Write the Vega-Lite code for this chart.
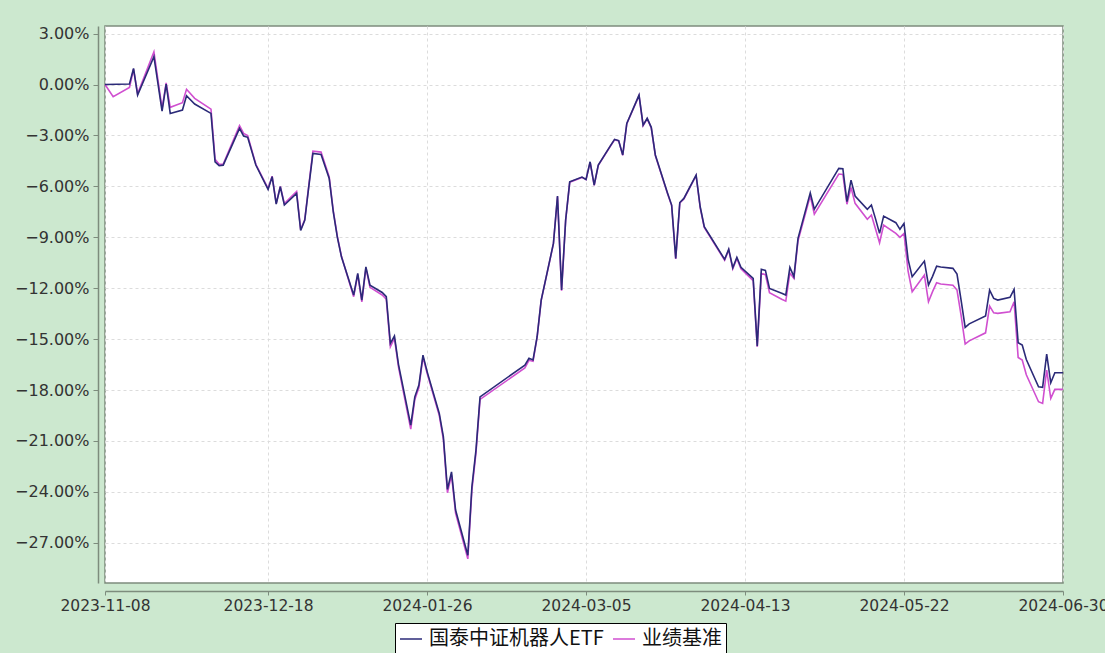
{
 "$schema": "https://vega.github.io/schema/vega-lite/v6.json",
 "width": 958,
 "height": 557,
 "autosize": {"type": "none"},
 "padding": {"left": 105, "top": 26, "right": 42, "bottom": 70},
 "background": "#cce8cf",
 "config": {
  "view": {"fill": "#ffffff", "stroke": "#7d8c7d", "strokeWidth": 1.5},
  "font": "DejaVu Sans"
 },
 "data": {"values": [
  {"d":"2023-11-08","国泰中证机器人ETF":0.00,"业绩基准":0.00},
  {"d":"2023-11-10","业绩基准":-0.72},
  {"d":"2023-11-14","国泰中证机器人ETF":0.03,"业绩基准":-0.17},
  {"d":"2023-11-15","国泰中证机器人ETF":0.95,"业绩基准":0.90},
  {"d":"2023-11-16","国泰中证机器人ETF":-0.62,"业绩基准":-0.55},
  {"d":"2023-11-20","国泰中证机器人ETF":1.64,"业绩基准":1.93},
  {"d":"2023-11-22","国泰中证机器人ETF":-1.56,"业绩基准":-1.40},
  {"d":"2023-11-23","国泰中证机器人ETF":0.03,"业绩基准":0.10},
  {"d":"2023-11-24","国泰中证机器人ETF":-1.70,"业绩基准":-1.34},
  {"d":"2023-11-27","国泰中证机器人ETF":-1.50,"业绩基准":-1.07},
  {"d":"2023-11-28","国泰中证机器人ETF":-0.66,"业绩基准":-0.28},
  {"d":"2023-11-30","国泰中证机器人ETF":-1.15,"业绩基准":-0.81},
  {"d":"2023-12-04","国泰中证机器人ETF":-1.70,"业绩基准":-1.45},
  {"d":"2023-12-05","国泰中证机器人ETF":-4.55,"业绩基准":-4.40},
  {"d":"2023-12-06","国泰中证机器人ETF":-4.78,"业绩基准":-4.70},
  {"d":"2023-12-07","国泰中证机器人ETF":-4.75,"业绩基准":-4.68},
  {"d":"2023-12-11","国泰中证机器人ETF":-2.58,"业绩基准":-2.42},
  {"d":"2023-12-12","国泰中证机器人ETF":-3.03,"业绩基准":-2.88},
  {"d":"2023-12-13","国泰中证机器人ETF":-3.11,"业绩基准":-3.00},
  {"d":"2023-12-15","国泰中证机器人ETF":-4.74,"业绩基准":-4.70},
  {"d":"2023-12-18","国泰中证机器人ETF":-6.18,"业绩基准":-6.12},
  {"d":"2023-12-19","国泰中证机器人ETF":-5.43,"业绩基准":-5.40},
  {"d":"2023-12-20","国泰中证机器人ETF":-7.04,"业绩基准":-7.00},
  {"d":"2023-12-21","国泰中证机器人ETF":-6.02,"业绩基准":-6.00},
  {"d":"2023-12-22","国泰中证机器人ETF":-7.10,"业绩基准":-7.02},
  {"d":"2023-12-25","国泰中证机器人ETF":-6.41,"业绩基准":-6.30},
  {"d":"2023-12-26","国泰中证机器人ETF":-8.60,"业绩基准":-8.55},
  {"d":"2023-12-27","国泰中证机器人ETF":-8.00,"业绩基准":-7.95},
  {"d":"2023-12-28","国泰中证机器人ETF":-6.00,"业绩基准":-5.92},
  {"d":"2023-12-29","国泰中证机器人ETF":-4.06,"业绩基准":-3.93},
  {"d":"2023-12-31","国泰中证机器人ETF":-4.12,"业绩基准":-3.98},
  {"d":"2024-01-02","国泰中证机器人ETF":-5.53,"业绩基准":-5.45},
  {"d":"2024-01-03","国泰中证机器人ETF":-7.50,"业绩基准":-7.45},
  {"d":"2024-01-04","国泰中证机器人ETF":-9.00,"业绩基准":-8.95},
  {"d":"2024-01-05","国泰中证机器人ETF":-10.15,"业绩基准":-10.12},
  {"d":"2024-01-08","国泰中证机器人ETF":-12.40,"业绩基准":-12.50},
  {"d":"2024-01-09","国泰中证机器人ETF":-11.13,"业绩基准":-11.20},
  {"d":"2024-01-10","国泰中证机器人ETF":-12.70,"业绩基准":-12.80},
  {"d":"2024-01-11","国泰中证机器人ETF":-10.74,"业绩基准":-10.80},
  {"d":"2024-01-12","国泰中证机器人ETF":-11.82,"业绩基准":-11.95},
  {"d":"2024-01-15","国泰中证机器人ETF":-12.25,"业绩基准":-12.40},
  {"d":"2024-01-16","国泰中证机器人ETF":-12.50,"业绩基准":-12.65},
  {"d":"2024-01-17","国泰中证机器人ETF":-15.25,"业绩基准":-15.45},
  {"d":"2024-01-18","国泰中证机器人ETF":-14.82,"业绩基准":-14.95},
  {"d":"2024-01-19","国泰中证机器人ETF":-16.50,"业绩基准":-16.65},
  {"d":"2024-01-22","国泰中证机器人ETF":-20.07,"业绩基准":-20.30},
  {"d":"2024-01-23","国泰中证机器人ETF":-18.40,"业绩基准":-18.55},
  {"d":"2024-01-24","国泰中证机器人ETF":-17.71,"业绩基准":-17.85},
  {"d":"2024-01-25","国泰中证机器人ETF":-15.94,"业绩基准":-16.05},
  {"d":"2024-01-26","国泰中证机器人ETF":-16.90,"业绩基准":-17.00},
  {"d":"2024-01-29","国泰中证机器人ETF":-19.38,"业绩基准":-19.50},
  {"d":"2024-01-30","国泰中证机器人ETF":-20.75,"业绩基准":-20.90},
  {"d":"2024-01-31","国泰中证机器人ETF":-23.85,"业绩基准":-24.05},
  {"d":"2024-02-01","国泰中证机器人ETF":-22.82,"业绩基准":-23.00},
  {"d":"2024-02-02","国泰中证机器人ETF":-25.07,"业绩基准":-25.25},
  {"d":"2024-02-05","国泰中证机器人ETF":-27.73,"业绩基准":-27.95},
  {"d":"2024-02-06","国泰中证机器人ETF":-23.70,"业绩基准":-23.90},
  {"d":"2024-02-07","国泰中证机器人ETF":-21.54,"业绩基准":-21.70},
  {"d":"2024-02-08","国泰中证机器人ETF":-18.40,"业绩基准":-18.55},
  {"d":"2024-02-19","国泰中证机器人ETF":-16.53,"业绩基准":-16.70},
  {"d":"2024-02-20","国泰中证机器人ETF":-16.13,"业绩基准":-16.25},
  {"d":"2024-02-21","国泰中证机器人ETF":-16.23,"业绩基准":-16.30},
  {"d":"2024-02-22","国泰中证机器人ETF":-14.86,"业绩基准":-14.90},
  {"d":"2024-02-23","国泰中证机器人ETF":-12.70,"业绩基准":-12.72},
  {"d":"2024-02-26","国泰中证机器人ETF":-9.36,"业绩基准":-9.38},
  {"d":"2024-02-27","国泰中证机器人ETF":-6.57,"业绩基准":-6.60},
  {"d":"2024-02-28","国泰中证机器人ETF":-12.11,"业绩基准":-12.15},
  {"d":"2024-02-29","国泰中证机器人ETF":-7.98,"业绩基准":-8.00},
  {"d":"2024-03-01","国泰中证机器人ETF":-5.73,"业绩基准":-5.75},
  {"d":"2024-03-04","国泰中证机器人ETF":-5.45,"业绩基准":-5.47},
  {"d":"2024-03-05","国泰中证机器人ETF":-5.59,"业绩基准":-5.60},
  {"d":"2024-03-06","国泰中证机器人ETF":-4.55,"业绩基准":-4.57},
  {"d":"2024-03-07","国泰中证机器人ETF":-5.92,"业绩基准":-5.94},
  {"d":"2024-03-08","国泰中证机器人ETF":-4.74,"业绩基准":-4.76},
  {"d":"2024-03-11","国泰中证机器人ETF":-3.60,"业绩基准":-3.62},
  {"d":"2024-03-12","国泰中证机器人ETF":-3.23,"业绩基准":-3.25},
  {"d":"2024-03-13","国泰中证机器人ETF":-3.30,"业绩基准":-3.32},
  {"d":"2024-03-14","国泰中证机器人ETF":-4.15,"业绩基准":-4.17},
  {"d":"2024-03-15","国泰中证机器人ETF":-2.29,"业绩基准":-2.31},
  {"d":"2024-03-18","国泰中证机器人ETF":-0.62,"业绩基准":-0.65},
  {"d":"2024-03-19","国泰中证机器人ETF":-2.39,"业绩基准":-2.42},
  {"d":"2024-03-20","国泰中证机器人ETF":-1.99,"业绩基准":-2.02},
  {"d":"2024-03-21","国泰中证机器人ETF":-2.52,"业绩基准":-2.55},
  {"d":"2024-03-22","国泰中证机器人ETF":-4.15,"业绩基准":-4.18},
  {"d":"2024-03-25","国泰中证机器人ETF":-6.40,"业绩基准":-6.43},
  {"d":"2024-03-26","国泰中证机器人ETF":-7.10,"业绩基准":-7.13},
  {"d":"2024-03-27","国泰中证机器人ETF":-10.24,"业绩基准":-10.28},
  {"d":"2024-03-28","国泰中证机器人ETF":-6.95,"业绩基准":-6.98},
  {"d":"2024-03-29","国泰中证机器人ETF":-6.71,"业绩基准":-6.74},
  {"d":"2024-04-01","国泰中证机器人ETF":-5.33,"业绩基准":-5.36},
  {"d":"2024-04-02","国泰中证机器人ETF":-7.20,"业绩基准":-7.25},
  {"d":"2024-04-03","国泰中证机器人ETF":-8.38,"业绩基准":-8.42},
  {"d":"2024-04-08","国泰中证机器人ETF":-10.30,"业绩基准":-10.35},
  {"d":"2024-04-09","国泰中证机器人ETF":-9.70,"业绩基准":-9.75},
  {"d":"2024-04-10","国泰中证机器人ETF":-10.80,"业绩基准":-10.85},
  {"d":"2024-04-11","国泰中证机器人ETF":-10.18,"业绩基准":-10.25},
  {"d":"2024-04-12","国泰中证机器人ETF":-10.77,"业绩基准":-10.85},
  {"d":"2024-04-15","国泰中证机器人ETF":-11.42,"业绩基准":-11.55},
  {"d":"2024-04-16","国泰中证机器人ETF":-15.41,"业绩基准":-15.45},
  {"d":"2024-04-17","国泰中证机器人ETF":-10.89,"业绩基准":-11.13},
  {"d":"2024-04-18","国泰中证机器人ETF":-10.95,"业绩基准":-11.20},
  {"d":"2024-04-19","国泰中证机器人ETF":-12.01,"业绩基准":-12.27},
  {"d":"2024-04-22","国泰中证机器人ETF":-12.30,"业绩基准":-12.65},
  {"d":"2024-04-23","国泰中证机器人ETF":-12.40,"业绩基准":-12.76},
  {"d":"2024-04-24","国泰中证机器人ETF":-10.77,"业绩基准":-11.10},
  {"d":"2024-04-25","国泰中证机器人ETF":-11.32,"业绩基准":-11.42},
  {"d":"2024-04-26","国泰中证机器人ETF":-9.06,"业绩基准":-9.20},
  {"d":"2024-04-29","国泰中证机器人ETF":-6.38,"业绩基准":-6.55},
  {"d":"2024-04-30","国泰中证机器人ETF":-7.35,"业绩基准":-7.63},
  {"d":"2024-05-06","国泰中证机器人ETF":-4.94,"业绩基准":-5.27},
  {"d":"2024-05-07","国泰中证机器人ETF":-4.96,"业绩基准":-5.30},
  {"d":"2024-05-08","国泰中证机器人ETF":-6.90,"业绩基准":-7.05},
  {"d":"2024-05-09","国泰中证机器人ETF":-5.63,"业绩基准":-6.06},
  {"d":"2024-05-10","国泰中证机器人ETF":-6.57,"业绩基准":-7.00},
  {"d":"2024-05-13","国泰中证机器人ETF":-7.35,"业绩基准":-7.94},
  {"d":"2024-05-14","国泰中证机器人ETF":-7.10,"业绩基准":-7.69},
  {"d":"2024-05-15","国泰中证机器人ETF":-7.90,"业绩基准":-8.50},
  {"d":"2024-05-16","国泰中证机器人ETF":-8.77,"业绩基准":-9.32},
  {"d":"2024-05-17","国泰中证机器人ETF":-7.75,"业绩基准":-8.28},
  {"d":"2024-05-20","国泰中证机器人ETF":-8.14,"业绩基准":-8.77},
  {"d":"2024-05-21","国泰中证机器人ETF":-8.53,"业绩基准":-9.00},
  {"d":"2024-05-22","国泰中证机器人ETF":-8.18,"业绩基准":-8.77},
  {"d":"2024-05-23","国泰中证机器人ETF":-10.30,"业绩基准":-11.00},
  {"d":"2024-05-24","国泰中证机器人ETF":-11.32,"业绩基准":-12.21},
  {"d":"2024-05-27","国泰中证机器人ETF":-10.40,"业绩基准":-11.23},
  {"d":"2024-05-28","国泰中证机器人ETF":-11.82,"业绩基准":-12.80},
  {"d":"2024-05-29","国泰中证机器人ETF":-11.30,"业绩基准":-12.20},
  {"d":"2024-05-30","国泰中证机器人ETF":-10.70,"业绩基准":-11.68},
  {"d":"2024-05-31","国泰中证机器人ETF":-10.75,"业绩基准":-11.75},
  {"d":"2024-06-03","国泰中证机器人ETF":-10.83,"业绩基准":-11.82},
  {"d":"2024-06-04","国泰中证机器人ETF":-11.17,"业绩基准":-12.11},
  {"d":"2024-06-05","国泰中证机器人ETF":-12.70,"业绩基准":-13.60},
  {"d":"2024-06-06","国泰中证机器人ETF":-14.31,"业绩基准":-15.29},
  {"d":"2024-06-07","国泰中证机器人ETF":-14.10,"业绩基准":-15.10},
  {"d":"2024-06-11","国泰中证机器人ETF":-13.64,"业绩基准":-14.63},
  {"d":"2024-06-12","国泰中证机器人ETF":-12.11,"业绩基准":-13.05},
  {"d":"2024-06-13","国泰中证机器人ETF":-12.60,"业绩基准":-13.45},
  {"d":"2024-06-14","国泰中证机器人ETF":-12.70,"业绩基准":-13.48},
  {"d":"2024-06-17","国泰中证机器人ETF":-12.54,"业绩基准":-13.39},
  {"d":"2024-06-18","国泰中证机器人ETF":-12.07,"业绩基准":-12.80},
  {"d":"2024-06-19","国泰中证机器人ETF":-15.21,"业绩基准":-16.08},
  {"d":"2024-06-20","国泰中证机器人ETF":-15.35,"业绩基准":-16.23},
  {"d":"2024-06-21","国泰中证机器人ETF":-16.20,"业绩基准":-17.10},
  {"d":"2024-06-24","国泰中证机器人ETF":-17.81,"业绩基准":-18.69},
  {"d":"2024-06-25","国泰中证机器人ETF":-17.84,"业绩基准":-18.79},
  {"d":"2024-06-26","国泰中证机器人ETF":-15.88,"业绩基准":-16.82},
  {"d":"2024-06-27","国泰中证机器人ETF":-17.57,"业绩基准":-18.49},
  {"d":"2024-06-28","国泰中证机器人ETF":-16.98,"业绩基准":-17.96},
  {"d":"2024-06-30","国泰中证机器人ETF":-16.98,"业绩基准":-17.96}
 ]},
 "transform": [
  {"fold": ["国泰中证机器人ETF", "业绩基准"], "as": ["s", "v"]},
  {"filter": "isValid(datum.v)"}
 ],
 "encoding": {
  "x": {
   "field": "d", "type": "temporal",
   "scale": {"type": "utc", "domain": [{"year": 2023, "month": 11, "date": 8, "utc": true}, {"year": 2024, "month": 6, "date": 30, "utc": true}]},
   "axis": {
    "title": null,
    "values": [
     {"year": 2023, "month": 11, "date": 8, "utc": true},
     {"year": 2023, "month": 12, "date": 18, "utc": true},
     {"year": 2024, "month": 1, "date": 26, "utc": true},
     {"year": 2024, "month": 3, "date": 5, "utc": true},
     {"year": 2024, "month": 4, "date": 13, "utc": true},
     {"year": 2024, "month": 5, "date": 22, "utc": true},
     {"year": 2024, "month": 6, "date": 30, "utc": true}
    ],
    "labelExpr": "utcFormat(datum.value, '%Y-%m-%d')",
    "offset": 8,
    "grid": true, "gridDash": [3, 3], "gridColor": "#dcdcdc",
    "domainColor": "#7d8c7d", "domainWidth": 1.5,
    "tickColor": "#7d8c7d", "tickSize": 4,
    "labelFontSize": 15.5, "labelColor": "#333333", "labelPadding": 3,
    "labelFlush": false, "labelOverlap": false
   }
  },
  "y": {
   "field": "v", "type": "quantitative",
   "scale": {"domain": [-29.37, 3.45], "nice": false, "zero": false},
   "axis": {
    "title": null,
    "values": [-27, -24, -21, -18, -15, -12, -9, -6, -3, 0, 3],
    "labelExpr": "format(datum.value, '.2f') + '%'",
    "offset": 7,
    "grid": true, "gridDash": [3, 3], "gridColor": "#dcdcdc",
    "domainColor": "#7d8c7d", "domainWidth": 1.5,
    "tickColor": "#7d8c7d", "tickSize": 5,
    "labelFontSize": 16, "labelColor": "#333333", "labelPadding": 4
   }
  },
  "color": {
   "field": "s", "type": "nominal",
   "scale": {"domain": ["国泰中证机器人ETF", "业绩基准"], "range": ["#2b2a78", "#d04fd0"]},
   "legend": {
    "title": null, "orient": "none", "legendX": 290, "legendY": 597,
    "direction": "horizontal",
    "symbolType": "stroke", "symbolStrokeWidth": 1.5, "symbolSize": 484,
    "labelFont": "Noto Sans CJK SC", "labelFontSize": 20, "labelColor": "#111111",
    "labelOffset": 6, "labelLimit": 400,
    "strokeColor": "#000000", "fillColor": "#ffffff", "padding": 4, "columnPadding": 6
   }
  }
 },
 "layer": [
  {"transform": [{"filter": "datum.s == '业绩基准'"}], "mark": {"type": "line", "strokeWidth": 1.6}},
  {"transform": [{"filter": "datum.s == '国泰中证机器人ETF'"}], "mark": {"type": "line", "strokeWidth": 1.6}}
 ]
}
